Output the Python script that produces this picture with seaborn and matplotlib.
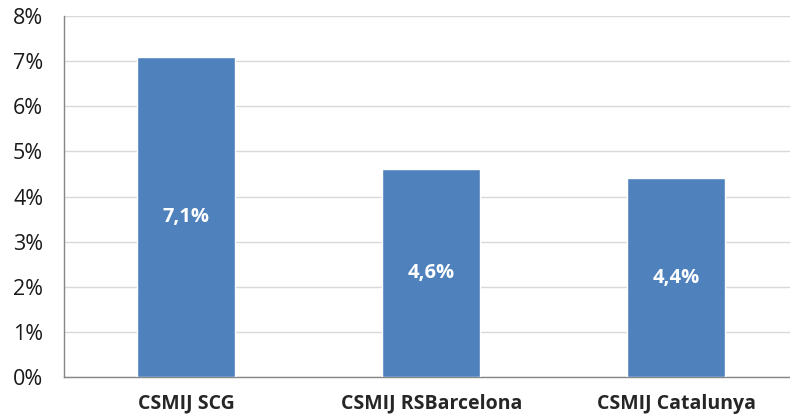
import pandas as pd
import seaborn as sns
import matplotlib.pyplot as plt
from matplotlib.ticker import FixedLocator, PercentFormatter

# Data
centros = ['CSMIJ SCG', 'CSMIJ RSBarcelona', 'CSMIJ Catalunya']
valores = [7.1, 4.6, 4.4]
etiquetas = ['7,1%', '4,6%', '4,4%']
y_ticks = [0, 1, 2, 3, 4, 5, 6, 7, 8]

df = pd.DataFrame({'centro': centros, 'valor': valores})

sns.set_style('white')
plt.rcParams['font.family'] = ['Open Sans', 'DejaVu Sans']

fig = plt.figure(figsize=(7.9, 4.19), dpi=100)
ax = fig.add_axes([0.081, 0.1002, 0.930, 0.8616])

sns.barplot(data=df, x='centro', y='valor', color='#4F81BD', width=0.4,
            saturation=1, ax=ax, zorder=3)

for i, (v, lab) in enumerate(zip(valores, etiquetas)):
    ax.text(i, v / 2, lab, ha='center', va='center', color='white',
            fontsize=14.5, fontweight='bold', zorder=4)

ax.set_xlim(-0.5, 2.5)
ax.set_ylim(0, 8)
ax.set_yticks(y_ticks)
ax.yaxis.set_major_formatter(PercentFormatter(decimals=0))
ax.grid(axis='y', color='#D9D9D9', linewidth=1, zorder=0)

# category labels as minor ticks, boundary marks as major ticks
ax.xaxis.set_major_locator(FixedLocator([0.5, 1.5]))
ax.xaxis.set_major_formatter(plt.NullFormatter())
ax.xaxis.set_minor_locator(FixedLocator([0, 1, 2]))
ax.set_xticklabels(centros, minor=True, fontsize=14, fontweight='bold')
ax.tick_params(axis='x', which='major', length=5, color='#868686', direction='out')
ax.tick_params(axis='x', which='minor', length=0, pad=12)
ax.tick_params(axis='y', length=6, color='#868686', labelsize=15.5, pad=9,
               labelcolor='#1a1a1a')

ax.set_xlabel('')
ax.set_ylabel('')
for s in ['top', 'right']:
    ax.spines[s].set_visible(False)
for s in ['left', 'bottom']:
    ax.spines[s].set_color('#868686')
    ax.spines[s].set_linewidth(1)

plt.savefig('out.png', dpi=100)
